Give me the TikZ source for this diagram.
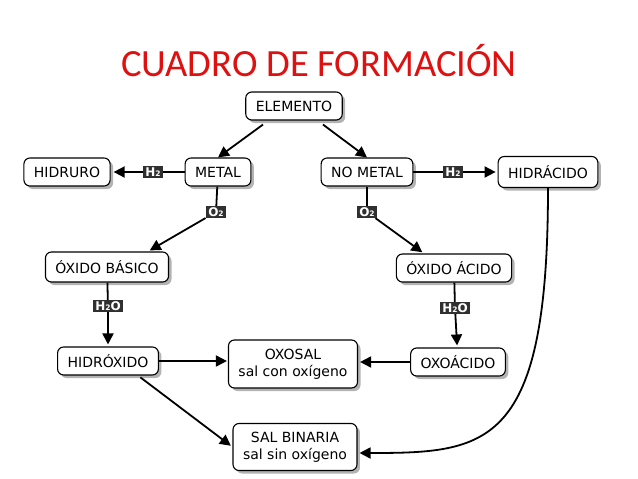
\documentclass[tikz,border=0pt]{standalone}
\usepackage{fontspec}
\usetikzlibrary{arrows.meta,shadows}
\newfontfamily\boxfont{DejaVu Sans}
\newfontfamily\titlefont{Carlito}
\newcommand{\subtwo}{{\fontsize{7.5}{7.5}\selectfont 2}}
\definecolor{titlered}{RGB}{222,16,16}
\definecolor{labgray}{RGB}{48,48,48}

\begin{document}
\begin{tikzpicture}[x=1pt, y=-1pt, >={Triangle[length=11pt,width=11pt]},
  box/.style={draw, line width=1.1pt, rounded corners=6pt, fill=white, minimum height=28pt,
    inner xsep=10pt, inner ysep=3pt, align=center, font={\boxfont\fontsize{14}{17}\selectfont},
    drop shadow={shadow xshift=3pt, shadow yshift=-3pt, fill=black!50, opacity=0.6}},
  chem/.style={fill=labgray, text=white, inner xsep=2.5pt, inner ysep=1pt, minimum height=12pt,
    font={\boxfont\bfseries\fontsize{12}{12}\selectfont}},
  link/.style={line width=1.8pt}]
  \useasboundingbox (0,0) rectangle (638,479);
  \node[text=titlered, font={\titlefont\fontsize{38.5}{38.5}\selectfont}] (title) at (319,61) {CUADRO DE FORMACIÓN};
  % boxes
  \node[box] (elem) at (294,106) {ELEMENTO};
  \node[box] (hidruro) at (67,172) {HIDRURO};
  \node[box] (metal) at (218,172) {METAL};
  \node[box] (nometal) at (367,172) {NO METAL};
  \node[box, minimum height=31pt] (hidracido) at (548,172) {HIDRÁCIDO};
  \node[box, minimum height=30pt] (obasico) at (107,267) {ÓXIDO BÁSICO};
  \node[box] (oacido) at (454,268) {ÓXIDO ÁCIDO};
  \node[box] (hidroxido) at (108,361) {HIDRÓXIDO};
  \node[box, minimum height=48pt] (oxosal) at (293,364) {OXOSAL\\sal con oxígeno};
  \node[box] (oxoacido) at (458,362) {OXOÁCIDO};
  \node[box, minimum height=47pt] (salbin) at (295,447) {SAL BINARIA\\sal sin oxígeno};
  % labels on the links
  \node[chem] (h2a) at (153,172) {H\subtwo};
  \node[chem] (h2b) at (453,172) {H\subtwo};
  \node[chem] (o2a) at (216,212) {O\subtwo};
  \node[chem] (o2b) at (367,212) {O\subtwo};
  \node[chem] (h2oa) at (108,306) {H\subtwo O};
  \node[chem] (h2ob) at (455,308) {H\subtwo O};
  % links
  \draw[link, ->] ([xshift=-31pt,yshift=-4pt]elem.south) -- (metal.north);
  \draw[link, ->] ([xshift=29pt,yshift=-4pt]elem.south) -- (nometal.north);
  \draw[link] (metal) -- (h2a);
  \draw[link, ->, shorten >=3pt] (h2a) -- (hidruro);
  \draw[link] (nometal) -- (h2b);
  \draw[link, ->, shorten >=2pt] (h2b) -- (hidracido);
  \draw[link] (metal) -- (o2a);
  \draw[link, ->, shorten >=2pt] (o2a) -- ([xshift=41pt]obasico.north);
  \draw[link] (nometal) -- (o2b);
  \draw[link, ->, shorten >=2pt] (o2b) -- ([xshift=-30pt]oacido.north);
  \draw[link] (obasico) -- (h2oa);
  \draw[link, ->, shorten >=2pt] (h2oa) -- (hidroxido);
  \draw[link] (oacido) -- (h2ob);
  \draw[link, ->, shorten >=2pt] (h2ob) -- (oxoacido);
  \draw[link, ->, shorten >=1pt] (hidroxido.east) -- (hidroxido.east -| oxosal.west);
  \draw[link, ->, shorten >=2pt] (oxoacido.west) -- (oxoacido.west -| oxosal.east);
  \draw[link, ->, shorten <=3pt, shorten >=2pt] ([xshift=30pt]hidroxido.south) -- (salbin.west);
  \draw[link, ->, shorten >=2pt] (hidracido.south) .. controls +(0,260) and +(130,0) .. ([yshift=-6pt]salbin.east);
\end{tikzpicture}
\end{document}
